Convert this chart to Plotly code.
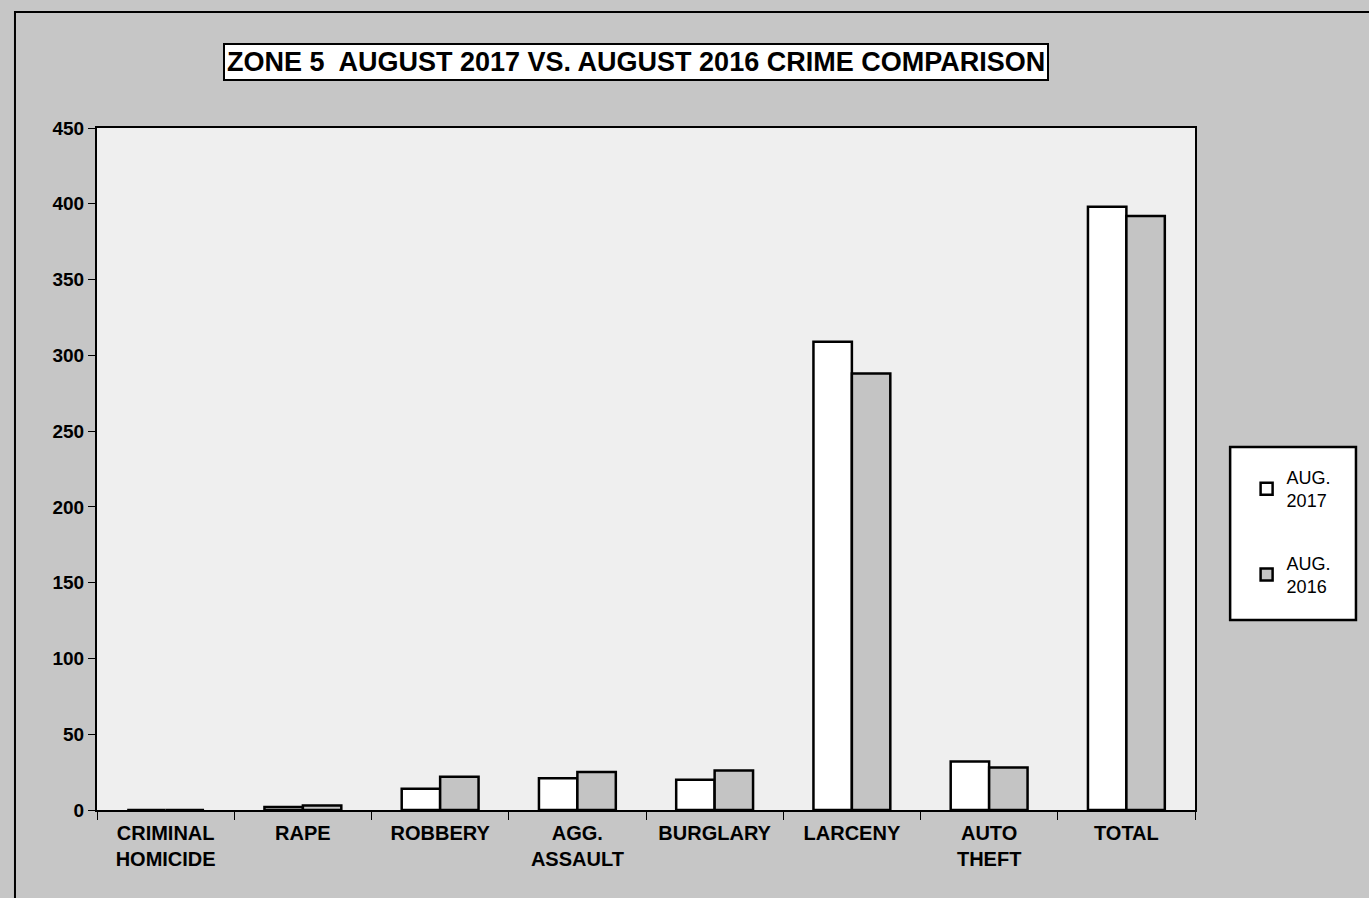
import plotly.graph_objects as go

# crime categories and monthly counts
categories = ['CRIMINAL<br>HOMICIDE', 'RAPE', 'ROBBERY', 'AGG.<br>ASSAULT',
              'BURGLARY', 'LARCENY', 'AUTO<br>THEFT', 'TOTAL']
aug_2017 = [0, 2, 14, 21, 20, 309, 32, 398]
aug_2016 = [0, 3, 22, 25, 26, 288, 28, 392]
y_ticks = [0, 50, 100, 150, 200, 250, 300, 350, 400, 450]

fig = go.Figure()

fig.add_trace(go.Bar(
    x=categories, y=aug_2017, name='AUG.<br>2017', legendgroup='a',
    marker=dict(color='white', line=dict(color='black', width=2.5)),
))
fig.add_trace(go.Bar(
    x=categories, y=aug_2016, name='AUG.<br>2016', legendgroup='b',
    marker=dict(color='#c4c4c4', line=dict(color='black', width=2.5)),
))

fig.update_layout(
    width=1369, height=898,
    margin=dict(l=97, r=174, t=128, b=88),
    paper_bgcolor='#c6c6c6',
    plot_bgcolor='#efefef',
    font=dict(family='Liberation Sans, Arial', color='black'),
    barmode='group',
    bargap=0.44,
    bargroupgap=0,
    showlegend=True,
    legend=dict(
        x=1.047, y=0.515, xanchor='left', yanchor='top',
        bgcolor='rgba(0,0,0,0)', borderwidth=0,
        font=dict(size=18), tracegroupgap=36,
    ),
    xaxis=dict(
        showline=True, linecolor='black', linewidth=2, mirror=True,
        ticks='outside', tickson='boundaries', ticklen=8, tickcolor='black',
        tickfont=dict(size=20, weight='bold'), showgrid=False,
        ticklabelstandoff=4,
    ),
    yaxis=dict(
        range=[0, 450], tickvals=y_ticks,
        showline=True, linecolor='black', linewidth=2, mirror=True,
        ticks='outside', ticklen=7, tickcolor='black',
        tickfont=dict(size=19, weight='bold'), showgrid=False, zeroline=False,
    ),
    shapes=[
        # outer frame
        dict(type='rect', xref='paper', yref='paper',
             x0=-0.0747, x1=1.3, y0=-0.3, y1=1.170,
             line=dict(color='black', width=2), fillcolor='rgba(0,0,0,0)',
             layer='below'),
        # legend box
        dict(type='rect', xref='paper', yref='paper',
             x0=1.032, x1=1.1466, y0=0.2786, y1=0.5323,
             line=dict(color='black', width=2.5), fillcolor='white',
             layer='below'),
    ],
    annotations=[
        dict(text='<b>ZONE 5  AUGUST 2017 VS. AUGUST 2016 CRIME COMPARISON</b>',
             xref='paper', yref='paper', x=0.491, y=1.0968,
             xanchor='center', yanchor='middle', showarrow=False,
             font=dict(size=27), bgcolor='white',
             bordercolor='black', borderwidth=2, borderpad=2),
    ],
)

fig.write_html('out.html', config={'displayModeBar': False},
               post_script="document.body.style.margin='0';")
